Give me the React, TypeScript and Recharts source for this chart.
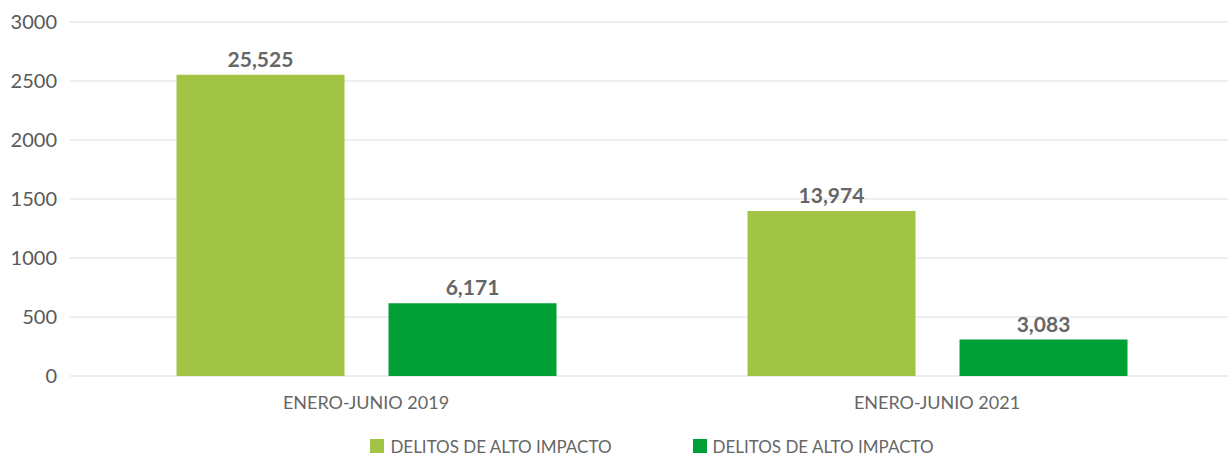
import React from 'react';
import { BarChart, Bar, XAxis, YAxis, CartesianGrid, Legend, LabelList } from 'recharts';

const categories = ['ENERO-JUNIO 2019', 'ENERO-JUNIO 2021'];
const serie1 = [2552.5, 1397.4];
const serie2 = [617.1, 308.3];
const labels1 = ['25,525', '13,974'];
const labels2 = ['6,171', '3,083'];
const seriesNames = ['DELITOS DE ALTO IMPACTO', 'DELITOS DE ALTO IMPACTO'];
const yTicks = [0, 500, 1000, 1500, 2000, 2500, 3000];

const COLORS = ['#A2C445', '#00A037'];

const data = categories.map((c, i) => ({
  name: c,
  s1: serie1[i],
  s2: serie2[i],
  l1: labels1[i],
  l2: labels2[i],
}));

const FONT = 'Lato, "Noto Sans", sans-serif';

const LegendContent = () => (
  <div
    style={{
      display: 'flex',
      justifyContent: 'center',
      alignItems: 'center',
      height: 20,
      paddingLeft: 76,
      fontFamily: FONT,
      fontSize: 17,
      color: '#666',
      gap: 81,
    }}
  >
    {seriesNames.map((n, i) => (
      <div key={i} style={{ display: 'flex', alignItems: 'center' }}>
        <span style={{ width: 14, height: 14, background: COLORS[i], display: 'inline-block', marginRight: 6 }} />
        <span>{n}</span>
      </div>
    ))}
  </div>
);

export default function App() {
  return (
    <div style={{ position: 'absolute', left: 0, top: 0, width: 1228, height: 456, background: '#fff' }}>
      <BarChart
        width={1228}
        height={456}
        data={data}
        margin={{ top: 22, right: 0, bottom: 0, left: 0 }}
        barGap={44}
      >
        <CartesianGrid vertical={false} stroke="#e8e8e8" strokeWidth={1.5} />
        <XAxis
          dataKey="name"
          axisLine={false}
          tickLine={false}
          height={60}
          tickMargin={14}
          padding={{ left: 10.5, right: 5.5 }}
          tick={{ fill: '#666', fontSize: 18, fontFamily: FONT }}
        />
        <YAxis
          width={70}
          domain={[0, 3000]}
          ticks={yTicks}
          axisLine={false}
          tickLine={false}
          tickMargin={7}
          tick={{ fill: '#595959', fontSize: 20, fontFamily: FONT }}
        />
        <Legend verticalAlign="bottom" content={<LegendContent />} />
        <Bar dataKey="s1" name={seriesNames[0]} fill={COLORS[0]} barSize={168} isAnimationActive={false}>
          <LabelList dataKey="l1" position="top" offset={8} fill="#666" fontSize={21} fontWeight={700} fontFamily={FONT} />
        </Bar>
        <Bar dataKey="s2" name={seriesNames[1]} fill={COLORS[1]} barSize={168} isAnimationActive={false}>
          <LabelList dataKey="l2" position="top" offset={8} fill="#666" fontSize={21} fontWeight={700} fontFamily={FONT} />
        </Bar>
      </BarChart>
    </div>
  );
}
